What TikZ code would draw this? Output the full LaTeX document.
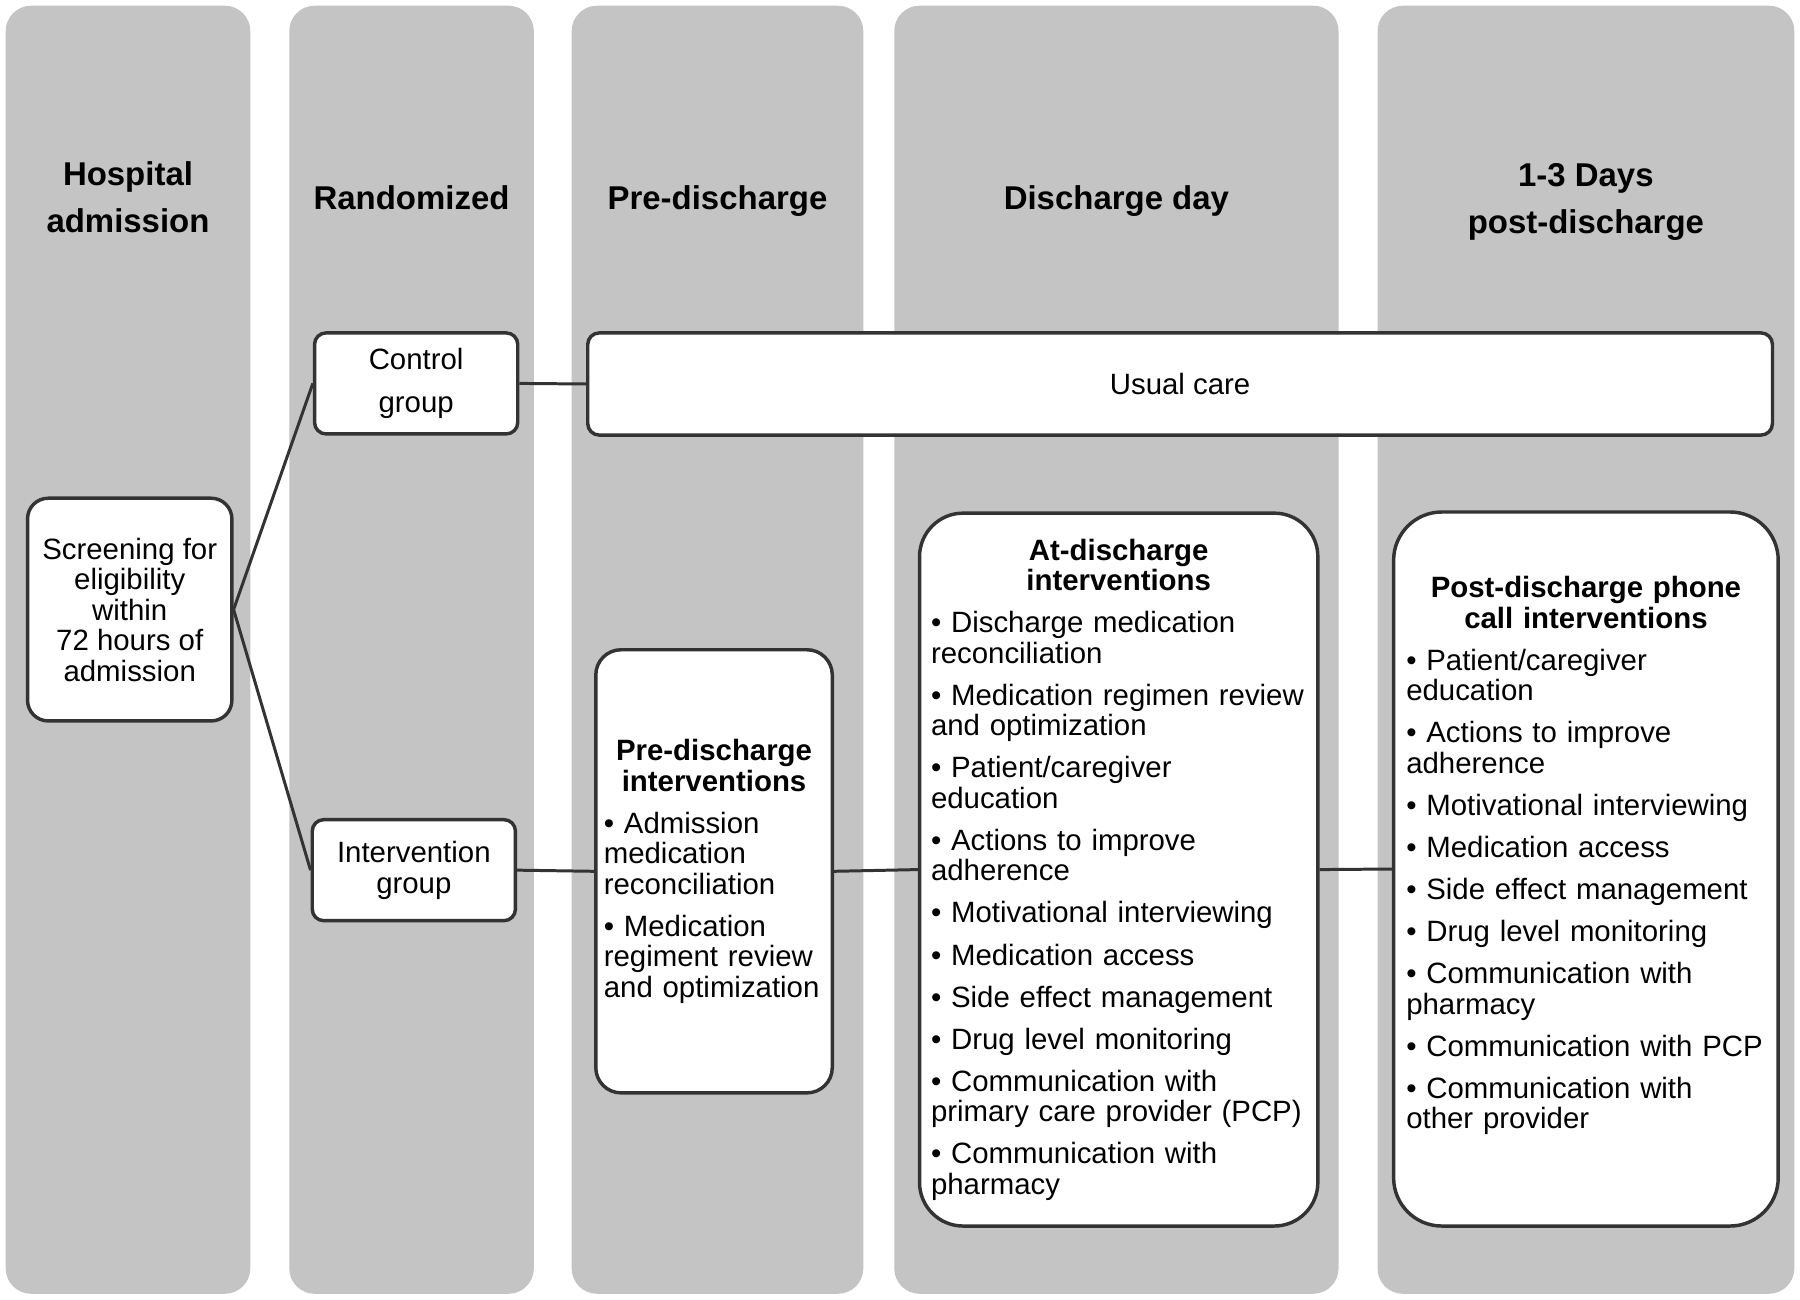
\documentclass[tikz,border=0pt]{standalone}
\usepackage{fontspec}
\setmainfont{Liberation Sans}
\definecolor{colgray}{RGB}{196,196,196}
\definecolor{linecol}{RGB}{51,51,51}
\newcommand{\hd}[1]{\makebox[\linewidth][c]{\bfseries #1}}
\begin{document}
\begin{tikzpicture}[x=1pt,y=-1pt,
  column/.style={fill=colgray, draw=none, rounded corners=22pt},
  hdr/.style={font=\fontsize{28.7}{41}\selectfont\bfseries, align=center, inner sep=0pt},
  box/.style={draw=linecol, line width=3pt, fill=white, inner sep=0pt},
  body/.style={font=\fontsize{25.6}{26.6}\selectfont},
  conn/.style={draw=linecol, line width=2.6pt},
]
\useasboundingbox (0,0) rectangle (1568,1132);
\fill[white] (0,0) rectangle (1568,1132);

% columns
\fill[column] (5,5) rectangle (218,1127);
\fill[column] (252,5) rectangle (465,1127);
\fill[column] (498,5) rectangle (752,1127);
\fill[column] (779,5) rectangle (1166,1127);
\fill[column] (1200,5) rectangle (1563,1127);

% headers
\node[hdr] (h1) at (111.5,172) {Hospital\\admission};
\node[hdr] (h2) at (358.5,172) {Randomized};
\node[hdr] (h3) at (625,175) {Pre-discharge};
\node[hdr] (h4) at (972.5,175) {Discharge day};
\node[hdr] (h5) at (1381.5,176) {1-3 Days\\post-discharge};

% boxes
\node[box, body, rounded corners=18pt, minimum width=178pt, minimum height=194pt, align=center]
  (screen) at (113,531) {Screening for\\eligibility\\within\\72 hours of\\admission};
\node[box, rounded corners=10pt, minimum width=177pt, minimum height=88pt, align=center,
  font=\fontsize{25.6}{37}\selectfont]
  (control) at (362.5,334) {Control\\group};
\node[box, body, rounded corners=10pt, minimum width=177pt, minimum height=88pt, align=center]
  (interv) at (360.5,758) {Intervention\\group};
\node[box, body, rounded corners=10pt, minimum width=1032pt, minimum height=89pt]
  (usual) at (1028,334.5) {Usual care};

\node[box, body, rounded corners=22pt, minimum height=386pt, inner xsep=7pt,
  text width=192pt, align=left]
  (pre) at (622,759) {\hd{Pre-discharge}\\\hd{interventions}\\[10pt]
  • Admission\\medication\\reconciliation\\[10pt]
  • Medication\\regiment review\\and optimization};

\node[box, body, rounded corners=38pt, minimum height=621pt, inner xsep=10pt,
  text width=327pt, align=left]
  (atd) at (974.5,757.5) {\hd{At-discharge}\\\hd{interventions}\\[10pt]
  • Discharge medication\\reconciliation\\[10pt]
  • Medication regimen review\\and optimization\\[10pt]
  • Patient/caregiver\\education\\[10pt]
  • Actions to improve\\adherence\\[10pt]
  • Motivational interviewing\\[10pt]
  • Medication access\\[10pt]
  • Side effect management\\[10pt]
  • Drug level monitoring\\[10pt]
  • Communication with\\primary care provider (PCP)\\[10pt]
  • Communication with\\pharmacy};

\node[box, body, rounded corners=42pt, minimum height=622pt, inner xsep=11pt,
  text width=313pt, align=left]
  (post) at (1381.5,757) {\hd{Post-discharge phone}\\\hd{call interventions}\\[10pt]
  • Patient/caregiver\\education\\[10pt]
  • Actions to improve\\adherence\\[10pt]
  • Motivational interviewing\\[10pt]
  • Medication access\\[10pt]
  • Side effect management\\[10pt]
  • Drug level monitoring\\[10pt]
  • Communication with\\pharmacy\\[10pt]
  • Communication with PCP\\[10pt]
  • Communication with\\other provider\\[2pt]\mbox{}};

% connectors
\draw[conn] (screen.east) -- (control.west);
\draw[conn] (screen.east) -- (interv.west);
\draw[conn] (control.east) -- (usual.west);
\draw[conn] (interv.east) -- (pre.west);
\draw[conn] (pre.east) -- (atd.west);
\draw[conn] (atd.east) -- (post.west);
\end{tikzpicture}
\end{document}
